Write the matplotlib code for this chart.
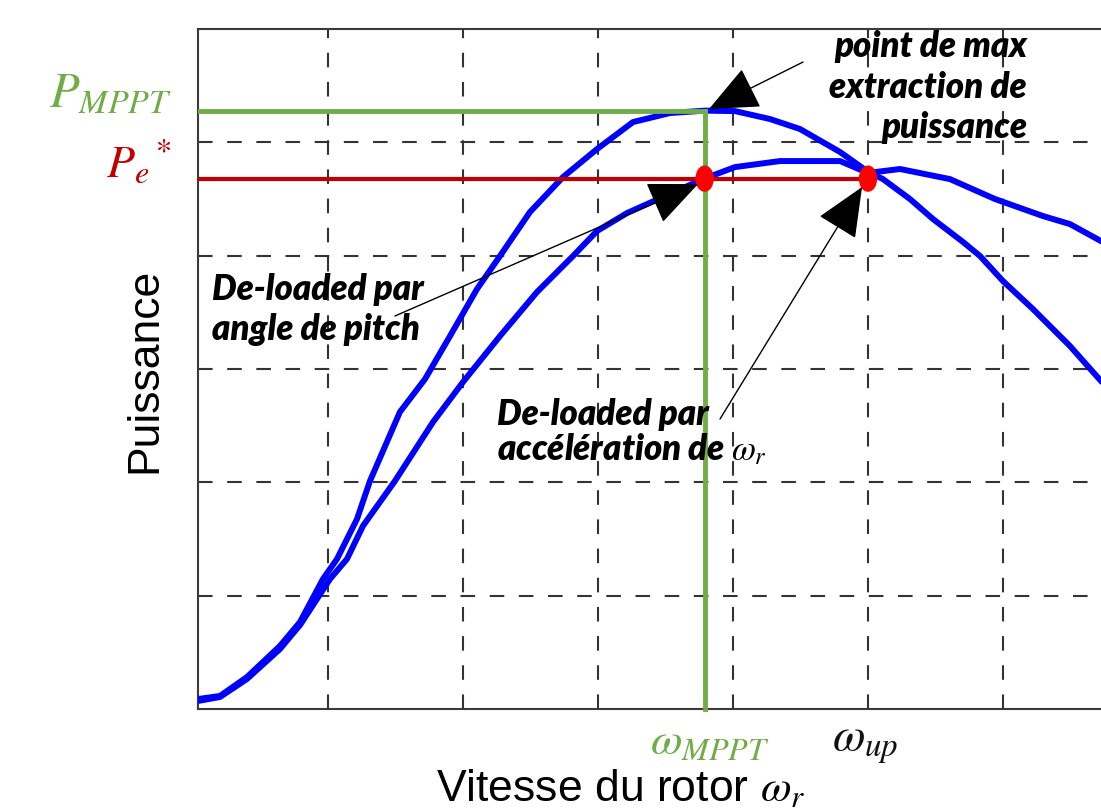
import matplotlib
matplotlib.use('Agg')
import matplotlib.pyplot as plt
from matplotlib.patches import Ellipse

plt.rcParams['mathtext.fontset'] = 'stix'
plt.rcParams['font.family'] = ['Liberation Sans', 'DejaVu Sans']

# courbe MPPT (P max)
w_curve_mppt = [0.037, 0.20, 0.40, 0.644, 0.793, 0.963, 1.067, 1.215, 1.311, 1.533,
                1.719, 1.904, 2.104, 2.274, 2.496, 2.741, 2.993, 3.259, 3.533, 3.793,
                4.015, 4.274, 4.496, 4.793, 5.0, 5.111, 5.311, 5.481, 5.704, 5.830,
                6.0, 6.222, 6.496, 6.726, 6.9]
p_curve_mppt = [0.088, 0.115, 0.282, 0.556, 0.768, 1.147, 1.324, 1.676, 2.012, 2.621,
                2.912, 3.291, 3.706, 3.997, 4.385, 4.694, 4.941, 5.179, 5.259, 5.28,
                5.276, 5.206, 5.118, 4.915, 4.74, 4.676, 4.50, 4.324, 4.121, 3.997,
                3.776, 3.529, 3.203, 2.894, 2.70]

# courbe de-loaded
w_curve_del = [0.037, 0.20, 0.40, 0.644, 0.793, 1.015, 1.141, 1.259, 1.496, 1.778,
               2.0, 2.274, 2.548, 2.815, 2.993, 3.215, 3.481, 3.778, 4.015, 4.348,
               4.793, 5.0, 5.237, 5.607, 5.941, 6.296, 6.496, 6.726, 6.9]
p_curve_del = [0.071, 0.106, 0.265, 0.529, 0.741, 1.147, 1.324, 1.615, 2.012, 2.532,
               2.885, 3.291, 3.679, 3.997, 4.218, 4.376, 4.518, 4.676, 4.782, 4.835,
               4.835, 4.73, 4.765, 4.676, 4.50, 4.35, 4.279, 4.129, 4.03]

w_mppt = 3.79
w_up = 5.0
p_mppt = 5.28
p_e = 4.68

fig = plt.figure(figsize=(11.01, 8.12), dpi=100)
ax = fig.add_axes([0.1798, 0.1256, 0.8538, 0.8374])
ax.set_xlim(0.037, 7.0)
ax.set_ylim(0, 6)

ax.set_xticks(range(1, 7))
ax.set_yticks(range(1, 6))
ax.tick_params(length=0, labelbottom=False, labelleft=False)
ax.grid(True, color='#333333', lw=1.5, linestyle=(0, (7, 7)))
ax.set_axisbelow(True)
for s in ['left', 'top', 'bottom']:
    ax.spines[s].set_color('#3a3a3a')
    ax.spines[s].set_linewidth(1.5)
ax.spines['right'].set_visible(False)

ax.plot(w_curve_mppt, p_curve_mppt, color='#0000FF', lw=4.3, zorder=3,
        solid_joinstyle='round', solid_capstyle='round')
ax.plot(w_curve_del, p_curve_del, color='#0000FF', lw=4.3, zorder=3,
        solid_joinstyle='round', solid_capstyle='round')

# niveaux P_MPPT et P_e*
ax.plot([0.037, w_mppt], [p_mppt, p_mppt], color='#70AD47', lw=3.5, zorder=4)
ax.plot([w_mppt, w_mppt], [0, p_mppt], color='#70AD47', lw=3.5, zorder=4,
        clip_on=False)
ax.plot([0.037, w_up], [p_e, p_e], color='#C00000', lw=3, zorder=4)
for w in [w_mppt, w_up]:
    ax.add_patch(Ellipse((w, p_e), 0.126, 0.22, color='#FF0000', zorder=6))

# flèches
aprops = dict(arrowstyle='-|>,head_length=1.6,head_width=0.7', color='black',
              lw=1, mutation_scale=20, shrinkA=0, shrinkB=0)
ax.annotate('', xy=(3.822, 5.294), xytext=(4.519, 5.709), arrowprops=aprops, zorder=7)
ax.annotate('', xy=(3.741, 4.632), xytext=(1.496, 3.468), arrowprops=aprops, zorder=7)
ax.annotate('', xy=(4.956, 4.606), xytext=(3.904, 2.559), arrowprops=aprops, zorder=7)

tkw = dict(family=['Lato', 'DejaVu Sans'], fontweight='heavy', fontstyle='italic',
           fontsize=25, va='baseline', color='black', zorder=8)
ax.text(6.178, 5.762, 'point de max', ha='right', **tkw)
ax.text(6.178, 5.400, 'extraction de', ha='right', **tkw)
ax.text(6.178, 5.047, 'puissance', ha='right', **tkw)
ax.text(0.141, 3.618, 'De-loaded par', ha='left', **tkw)
ax.text(0.141, 3.265, 'angle de pitch', ha='left', **tkw)
ax.text(2.252, 2.515, 'De-loaded par', ha='left', **tkw)
ax.text(2.252, 2.206, r'accélération de $\omega_r$', ha='left', **tkw)

# étiquettes des axes
ax.text(-0.156, p_mppt + 0.15, r'$P_{MPPT}$', color='#70AD47', fontsize=35,
        ha='right', va='center', clip_on=False)
ax.text(-0.156, p_e + 0.15, r'$P_e{}^*$', color='#C00000', fontsize=33,
        ha='right', va='center', clip_on=False)
ax.text(w_mppt + 0.04, -0.28, r'$\omega_{MPPT}$', color='#70AD47', fontsize=33,
        ha='center', va='center', clip_on=False)
ax.text(w_up - 0.02, -0.30, r'$\omega_{up}$', color='#111111', fontsize=34,
        ha='center', va='center', clip_on=False)

fig.text(0.564, 0.013, r'Vitesse du rotor $\omega_r$', fontsize=32,
         ha='center', va='baseline')
fig.text(0.132, 0.544, 'Puissance', fontsize=32, rotation=90,
         ha='center', va='center')

fig.savefig('out.png', dpi=100)
